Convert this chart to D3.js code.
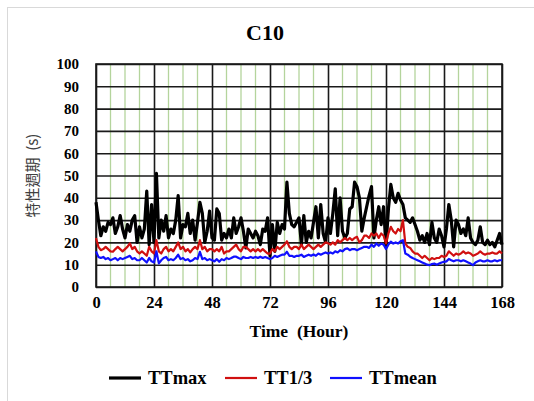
<!DOCTYPE html>
<html>
<head>
<meta charset="utf-8">
<script src="https://cdn.jsdelivr.net/npm/d3@7"></script>
<style>
  html, body { margin: 0; padding: 0; background: #fff; }
  svg { display: block; }
</style>
</head>
<body>
<figure id="c10-chart" style="margin:0"></figure>
<script>
// hourly values, hour 0 .. 168
const hours = d3.range(0, 169);

const ttMax = [
  38, 30, 23, 27, 25, 29, 28, 31, 24, 27, 32, 26, 22, 28, 25, 30, 32, 20, 27, 22,
  26, 43, 19, 37, 20, 51, 22, 30, 25, 32, 22, 26, 24, 30, 41, 22, 28, 27, 33, 24,
  30, 21, 29, 38, 33, 20, 25, 34, 22, 21, 35, 33, 21, 24, 22, 26, 22, 31, 24, 27,
  31, 25, 17.5, 26, 24, 22, 25, 23, 19, 26, 25, 31, 14, 28, 16, 29, 24, 28, 26, 47,
  33, 28, 27, 29, 31, 19, 32, 20, 25, 22, 29, 36, 22, 37, 24, 20, 31, 24, 33, 44,
  23, 40, 25, 22, 24, 35, 36, 47, 45, 40, 25, 31, 36, 41, 45, 22, 30, 36, 28, 36,
  18, 35, 46, 40, 38, 42, 39, 37, 31, 30, 29, 31, 28, 25, 21, 23, 20, 24, 19, 29,
  22, 20, 26, 23, 18, 26, 37, 30, 18, 30, 28, 24, 26, 23, 31, 22, 20, 19, 21, 27,
  20, 19, 21, 19, 20, 18, 21, 24, 19
];

const ttThird = [
  22, 18, 16.5, 17, 18, 17, 16, 15.8, 17, 18, 17, 16, 17, 18, 19.6, 17, 18, 16, 15, 16,
  15, 14, 18, 16, 15, 21, 16, 15, 17, 18, 16, 17, 16, 18, 20, 17, 18, 16, 17, 15.5,
  17, 18, 17, 21, 17, 18, 16, 17, 17, 16, 17, 16, 18, 15, 16, 16, 17, 18, 19, 17,
  16, 18, 18, 17, 16, 17, 16, 17, 16, 17, 16, 15, 15, 17, 16, 18, 17, 18, 19, 20.5,
  18, 17, 18, 18, 17, 19, 17, 18, 19, 18, 17, 18, 19, 18, 19, 20, 19.6, 19, 20, 19,
  21, 20, 21, 22, 21, 22, 21, 22, 22.5, 20, 21, 23, 23, 22, 24, 23, 24, 22, 24, 23,
  19.5, 24, 27, 25, 24, 26, 25, 30, 19.5, 18, 17.5, 16, 15, 15, 14, 13, 14, 13, 12, 13,
  12.5, 13, 13, 14, 13.5, 14, 16, 15, 14, 15, 14.5, 15, 16, 15, 15.5, 15, 14, 14.5, 15, 16,
  15, 14.5, 15, 15, 15.5, 15, 15, 16, 15
];

const ttMean = [
  16, 13.5, 13, 13.5, 12.5, 13, 12, 12.5, 13, 12, 13, 12.5, 13, 13.5, 14, 12.5, 13, 12, 12, 13,
  12, 11, 13, 11.5, 11, 16, 10.6, 12, 13, 13.5, 12, 12.5, 12, 13, 14.5, 12.5, 13, 12, 12.5, 11.5,
  12, 13, 12.5, 15.8, 12.5, 13, 12, 12.5, 12, 11.5, 12.5, 11.3, 12.5, 12, 13, 12.5, 13, 13.6, 13.6, 13,
  12.5, 13.5, 13, 13, 13.5, 13, 13.5, 13, 13.6, 13, 13.5, 13, 12.5, 13, 14, 13.5, 14, 14.5, 14.5, 15.8,
  14, 14, 13.5, 14, 14, 14.5, 13.5, 14, 14.5, 14, 14.6, 14, 15, 14.5, 15, 15.5, 15, 15.5, 15, 16,
  15.5, 16.5, 16, 17, 17.3, 16.5, 17, 17, 16.5, 17, 17.5, 18, 18, 17.5, 19, 18, 19.5, 18.5, 19.5, 19,
  17, 19, 20.3, 19.5, 20, 19.5, 20.5, 21, 15, 14.5, 13.6, 13, 12.5, 12, 11.5, 11, 10.5, 10, 9.8, 10.3,
  10.5, 10, 10.5, 11, 11.3, 11.5, 12.6, 12, 11.5, 12, 12, 11.5, 12, 11.5, 11, 10.5, 9.8, 11, 11.5, 12,
  11.5, 11.5, 12, 11.5, 11.5, 12, 11.5, 12, 12
];

const xTicks = [0, 24, 48, 72, 96, 120, 144, 168];
const xMinorTicks = d3.range(6, 168, 6).filter(h => h % 24 !== 0);
const yTicks = d3.range(0, 101, 10);

const seriesNames = ['TTmax', 'TT1/3', 'TTmean'];
const seriesColors = ['#000000', '#d01010', '#1010ff'];
const seriesWidths = [3.2, 2.2, 2.2];

const width = 534;
const height = 401;
const plot = { left: 96, right: 502, top: 64, bottom: 287 };
const serifFont = '"Liberation Serif", "Times New Roman", Times, "DejaVu Serif", serif';

const svg = d3.select('figure#c10-chart')
  .append('svg')
  .attr('width', width)
  .attr('height', height);

// helper so every label gets the bold serif look
function serifText(sel, size) {
  return sel
    .style('font-family', serifFont)
    .style('font-weight', 'bold')
    .style('font-size', size + 'px')
    .style('fill', '#000');
}

// outer frame of the chart area
svg.append('rect')
  .attr('x', 7.5).attr('y', 7.5)
  .attr('width', 540).attr('height', 410)
  .attr('fill', '#fff')
  .attr('stroke', '#d9d9d9');

// title
svg.append('text')
  .attr('x', 265).attr('y', 40)
  .attr('text-anchor', 'middle')
  .call(serifText, 22)
  .text('C10');

const xScale = d3.scaleLinear().domain([0, 168]).range([plot.left, plot.right]);
const yScale = d3.scaleLinear().domain([0, 100]).range([plot.bottom, plot.top]);

const chart = svg.append('g');

// minor vertical grid (every 6 hours)
chart.append('g')
  .selectAll('line')
  .data(xMinorTicks)
  .join('line')
  .attr('x1', d => xScale(d)).attr('x2', d => xScale(d))
  .attr('y1', plot.top).attr('y2', plot.bottom)
  .attr('stroke', '#b4d49c')
  .attr('stroke-width', 1.3);

// horizontal grid + y labels
const yAxis = chart.append('g')
  .attr('transform', 'translate(' + plot.left + ',0)')
  .call(d3.axisLeft(yScale).tickValues(yTicks).tickSize(0).tickPadding(17));
yAxis.select('.domain').remove();
yAxis.selectAll('.tick line')
  .attr('x2', plot.right - plot.left)
  .attr('stroke', '#1a1a1a')
  .attr('stroke-width', 1.6);
yAxis.selectAll('.tick text')
  .call(serifText, 15);

// major vertical grid + x labels
const xAxis = chart.append('g')
  .attr('transform', 'translate(0,' + plot.bottom + ')')
  .call(d3.axisBottom(xScale).tickValues(xTicks).tickSize(0).tickPadding(9));
xAxis.select('.domain').remove();
xAxis.selectAll('.tick line')
  .attr('y2', plot.top - plot.bottom)
  .attr('stroke', '#1a1a1a')
  .attr('stroke-width', 1.6);
xAxis.selectAll('.tick text')
  .call(serifText, 16.5);

// plot border
chart.append('rect')
  .attr('x', plot.left).attr('y', plot.top)
  .attr('width', plot.right - plot.left).attr('height', plot.bottom - plot.top)
  .attr('fill', 'none')
  .attr('stroke', '#1a1a1a')
  .attr('stroke-width', 1.6);

// axis titles
svg.append('text')
  .attr('x', (plot.left + plot.right) / 2).attr('y', 337)
  .attr('text-anchor', 'middle')
  .call(serifText, 17.5)
  .style('white-space', 'pre')
  .text('Time  (Hour)');

svg.append('text')
  .attr('transform', 'translate(38,' + ((plot.top + plot.bottom) / 2) + ') rotate(-90)')
  .attr('text-anchor', 'middle')
  .style('font-family', '"Noto Sans CJK TC", "Noto Sans CJK SC", sans-serif')
  .style('font-size', '15px')
  .style('fill', '#404040')
  .style('white-space', 'pre')
  .text('特性週期  (s)');

// lines
const line = d3.line()
  .x((d, i) => xScale(hours[i]))
  .y(d => yScale(d));

const allSeries = [ttMax, ttThird, ttMean];

chart.append('g')
  .selectAll('path')
  .data(allSeries)
  .join('path')
  .attr('d', d => line(d))
  .attr('fill', 'none')
  .attr('stroke', (d, i) => seriesColors[i])
  .attr('stroke-width', (d, i) => seriesWidths[i])
  .attr('stroke-linejoin', 'round');

// legend
const legendX = [109, 225, 330];
const legend = svg.append('g')
  .selectAll('g')
  .data(seriesNames)
  .join('g')
  .attr('transform', (d, i) => 'translate(' + legendX[i] + ',378)');

legend.append('line')
  .attr('x1', 0).attr('x2', 32)
  .attr('stroke', (d, i) => seriesColors[i])
  .attr('stroke-width', (d, i) => seriesWidths[i]);

legend.append('text')
  .attr('x', 39).attr('y', 6)
  .call(serifText, 18.5)
  .text(d => d);
</script>
</body>
</html>
